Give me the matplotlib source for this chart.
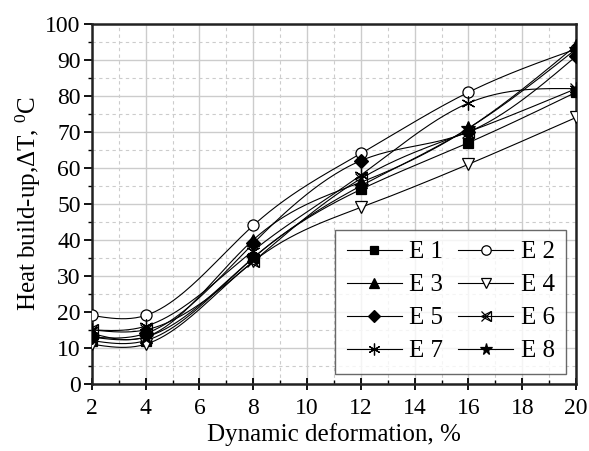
import numpy as np
import matplotlib.pyplot as plt
from matplotlib.ticker import MultipleLocator

plt.rcParams['font.family'] = ['Liberation Serif', 'DejaVu Serif']
plt.rcParams['mathtext.fontset'] = 'custom'
plt.rcParams['mathtext.rm'] = 'Liberation Serif'
plt.rcParams['mathtext.it'] = 'Liberation Serif:italic'

# -------------------- data --------------------
deformation = [2, 4, 8, 12, 16, 20]
e1 = [12, 12, 35, 54, 67, 81]
e2 = [19, 19, 44, 64, 81, 93]
e3 = [14, 13, 40, 56, 71, 94]
e4 = [11, 11, 34, 49, 61, 74]
e5 = [13, 14, 39, 62, 70, 91]
e6 = [15, 15, 34, 57, 70, 82]
e7 = [15, 16, 37, 58, 78, 82]
e8 = [13, 13, 35, 55, 71, 93]
labels = ["E 1", "E 2", "E 3", "E 4", "E 5", "E 6", "E 7", "E 8"]


def natural_spline(x, y, n=200):
    """natural cubic spline through the points, only used to draw the smooth line"""
    x = np.asarray(x, float); y = np.asarray(y, float)
    k = len(x)
    h = np.diff(x)
    A = np.zeros((k, k)); b = np.zeros(k)
    A[0, 0] = A[-1, -1] = 1
    for i in range(1, k - 1):
        A[i, i - 1] = h[i - 1]
        A[i, i] = 2 * (h[i - 1] + h[i])
        A[i, i + 1] = h[i]
        b[i] = 6 * ((y[i + 1] - y[i]) / h[i] - (y[i] - y[i - 1]) / h[i - 1])
    M = np.linalg.solve(A, b)
    xs = np.linspace(x[0], x[-1], n)
    idx = np.clip(np.searchsorted(x, xs) - 1, 0, k - 2)
    x0, x1 = x[idx], x[idx + 1]
    hh = x1 - x0
    t0 = x1 - xs; t1 = xs - x0
    ys = (M[idx] * t0**3 + M[idx + 1] * t1**3) / (6 * hh) \
        + (y[idx] / hh - M[idx] * hh / 6) * t0 + (y[idx + 1] / hh - M[idx + 1] * hh / 6) * t1
    return xs, ys


fig = plt.figure(figsize=(5.89, 4.51), dpi=100)
ax = fig.add_axes([0.156, 0.149, 0.822, 0.798])

series = [e1, e2, e3, e4, e5, e6, e7, e8]
styles = [
    dict(marker="s", ms=7, mfc="black"),
    dict(marker="o", ms=8, mfc="white"),
    dict(marker="^", ms=8, mfc="black"),
    dict(marker="v", ms=8, mfc="white"),
    dict(marker="D", ms=7, mfc="black"),
    dict(marker="<", ms=8, mfc="none"),
    dict(marker=(6, 2, 0), ms=10, mfc="black"),
    dict(marker="*", ms=10, mfc="black"),
]

handles = []
for i, (vals, st) in enumerate(zip(series, styles)):
    xs, ys = natural_spline(deformation, vals)
    ax.plot(xs, ys, color="black", lw=0.8, zorder=3)
    ax.plot(deformation, vals, ls="none", marker=st["marker"], ms=st["ms"],
            mfc=st["mfc"], mec="black", mew=0.9, zorder=4)
    h = ax.plot([], [], color="black", lw=0.8, marker=st["marker"], ms=st["ms"] * 0.85,
                mfc=st["mfc"], mec="black", mew=0.9)[0]
    if i == 5:
        ax.plot(deformation, vals, ls="none", marker="x", ms=8, mec="black", mew=0.9, zorder=4)
        hx = ax.plot([], [], ls="none", marker="x", ms=7, mec="black", mew=0.9)[0]
        h = (h, hx)
    handles.append(h)

# -------------------- axes --------------------
ax.set_xlim(2, 20)
ax.set_ylim(0, 100)
ax.xaxis.set_major_locator(MultipleLocator(2))
ax.xaxis.set_minor_locator(MultipleLocator(1))
ax.yaxis.set_major_locator(MultipleLocator(10))
ax.yaxis.set_minor_locator(MultipleLocator(5))
ax.grid(which="major", color="#cccccc", lw=1.0, zorder=0)
ax.grid(which="minor", color="#cccccc", lw=0.8, ls=(0, (3, 3)), zorder=0)
ax.set_axisbelow(True)

for sp in ax.spines.values():
    sp.set_linewidth(1.8)
    sp.set_color("#222222")

ax.tick_params(axis="y", which="major", direction="out", length=6, width=1.3, labelsize=17, pad=2)
ax.tick_params(axis="y", which="minor", direction="out", length=3, width=1.0)
ax.tick_params(axis="x", which="major", direction="inout", length=8, width=1.3, labelsize=17, pad=6)
ax.tick_params(axis="x", which="minor", direction="in", length=3, width=1.0)

ax.set_xlabel("Dynamic deformation, %", fontsize=18, labelpad=3)
ax.set_ylabel(r"Heat build-up,$\Delta$T, $^{0}$C", fontsize=18, labelpad=2)

order = [0, 2, 4, 6, 1, 3, 5, 7]
leg = ax.legend([handles[i] for i in order], [labels[i] for i in order],
                ncol=2, loc="lower right", bbox_to_anchor=(0.979, 0.028), borderaxespad=0,
                fontsize=18, frameon=True, fancybox=False, edgecolor="#444444",
                handlelength=2.2, handletextpad=0.3, columnspacing=0.6,
                labelspacing=0.42, borderpad=0.45)
leg.get_frame().set_linewidth(1.0)
leg.set_zorder(10)

plt.savefig("out.png", dpi=100)
